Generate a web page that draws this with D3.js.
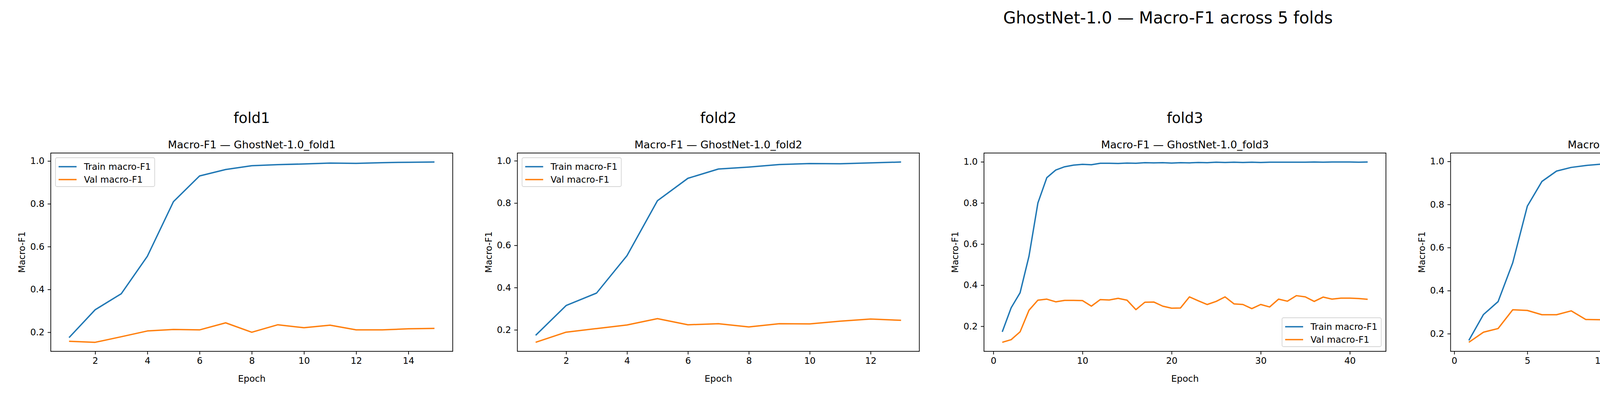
<!DOCTYPE html>
<html>
<head>
<meta charset="utf-8">
<script src="https://cdn.jsdelivr.net/npm/d3@7"></script>
<style>
  body { margin: 0; background: #fff; }
  svg text { font-family: "DejaVu Sans", sans-serif; fill: #000; }
</style>
</head>
<body>
<svg id="chart" width="5980" height="1017"></svg>
<script>
// values
const foldNames = ["fold1", "fold2", "fold3", "fold4", "fold5"]

const train1 = [0.175, 0.305, 0.38, 0.555, 0.81, 0.93, 0.96, 0.978, 0.983, 0.986, 0.99, 0.989, 0.992, 0.994, 0.995]
const val1 = [0.158, 0.153, 0.179, 0.206, 0.213, 0.211, 0.244, 0.2, 0.235, 0.221, 0.233, 0.211, 0.211, 0.216, 0.218]

const train2 = [0.174, 0.315, 0.374, 0.551, 0.811, 0.917, 0.961, 0.970, 0.982, 0.987, 0.986, 0.990, 0.994]
const val2 = [0.141, 0.189, 0.206, 0.223, 0.253, 0.224, 0.229, 0.214, 0.229, 0.228, 0.241, 0.251, 0.245]

const train3 = [0.173, 0.29, 0.363, 0.541, 0.8, 0.923, 0.96, 0.976, 0.984, 0.988, 0.986, 0.993, 0.993, 0.992, 0.994,
  0.993, 0.996, 0.995, 0.996, 0.994, 0.996, 0.995, 0.997, 0.996, 0.998, 0.997, 0.998, 0.997, 0.998, 0.997, 0.998,
  0.998, 0.998, 0.998, 0.998, 0.999, 0.998, 0.999, 0.999, 0.999, 0.998, 0.999]
const val3 = [0.122, 0.135, 0.173, 0.278, 0.327, 0.332, 0.319, 0.326, 0.326, 0.325, 0.298, 0.330, 0.328, 0.336, 0.327,
  0.281, 0.317, 0.318, 0.298, 0.288, 0.289, 0.343, 0.324, 0.306, 0.321, 0.343, 0.309, 0.306, 0.286, 0.306, 0.294,
  0.332, 0.322, 0.349, 0.343, 0.321, 0.342, 0.332, 0.337, 0.337, 0.335, 0.331]

const train4 = [0.169, 0.289, 0.349, 0.529, 0.792, 0.907, 0.955, 0.972, 0.981, 0.987, 0.990, 0.991, 0.994, 0.994, 0.992,
  0.994, 0.994, 0.995, 0.995, 0.997, 0.995, 0.995, 0.997, 0.997, 0.997, 0.997]
const val4 = [0.160, 0.207, 0.224, 0.311, 0.308, 0.288, 0.288, 0.306, 0.266, 0.265, 0.281, 0.323, 0.317, 0.25, 0.295,
  0.274, 0.290, 0.337, 0.264, 0.302, 0.292, 0.274, 0.297, 0.266, 0.276, 0.292]

const train5 = [0.173, 0.308, 0.374, 0.542, 0.797, 0.917, 0.956, 0.973, 0.978, 0.984, 0.986, 0.989, 0.992, 0.993, 0.992, 0.992]
const val5 = [0.147, 0.175, 0.172, 0.26, 0.30, 0.315, 0.289, 0.332, 0.313, 0.317, 0.268, 0.330, 0.282, 0.261, 0.276, 0.291]

const trainSeries = [train1, train2, train3, train4, train5]
const valSeries = [val1, val2, val3, val4, val5]
const xTickValues = [
  [2, 4, 6, 8, 10, 12, 14],
  [2, 4, 6, 8, 10, 12],
  [0, 10, 20, 30, 40],
  [0, 5, 10, 15, 20, 25],
  [2, 4, 6, 8, 10, 12, 14, 16]
]
const yTickValues = [0.2, 0.4, 0.6, 0.8, 1.0]
const legendPos = ["upper left", "upper left", "lower right", "center right", "upper left"]
const seriesNames = ["Train macro-F1", "Val macro-F1"]
const colors = ["#1f77b4", "#ff7f0e"]

const svg = d3.select("#chart")
const panelW = 1029, panelH = 508, panelTop = 392, step = 1194.5, firstLeft = 130

svg.append("text")
  .attr("x", 2990).attr("y", 60)
  .attr("text-anchor", "middle")
  .style("font-size", "42px")
  .text("GhostNet-1.0 \u2014 Macro-F1 across 5 folds")

foldNames.forEach(function(name, i) {
  const left = firstLeft + i * step
  const train = trainSeries[i], val = valSeries[i]
  const n = train.length
  const all = train.concat(val)
  const ymin = d3.min(all), ymax = d3.max(all)
  const ypad = (ymax - ymin) * 0.05
  const xpad = (n - 1) * 0.05

  const x = d3.scaleLinear().domain([1 - xpad, n + xpad]).range([0, panelW])
  const y = d3.scaleLinear().domain([ymin - ypad, ymax + ypad]).range([panelH, 0])

  svg.append("text")
    .attr("x", left + panelW / 2).attr("y", 315)
    .attr("text-anchor", "middle")
    .style("font-size", "37px")
    .text(name)

  const g = svg.append("g").attr("transform", "translate(" + left + "," + panelTop + ")")

  g.append("text")
    .attr("x", panelW / 2).attr("y", -12)
    .attr("text-anchor", "middle")
    .style("font-size", "27px")
    .text("Macro-F1 \u2014 GhostNet-1.0_" + name)

  const xAxis = g.append("g").attr("transform", "translate(0," + panelH + ")")
    .call(d3.axisBottom(x).tickValues(xTickValues[i]).tickFormat(d3.format("d")).tickSize(8).tickPadding(8))
  const yAxis = g.append("g")
    .call(d3.axisLeft(y).tickValues(yTickValues).tickFormat(d3.format(".1f")).tickSize(8).tickPadding(8))
  ;[xAxis, yAxis].forEach(function(a) {
    a.select(".domain").remove()
    a.selectAll("line").attr("stroke", "#000").attr("stroke-width", 1.8)
    a.selectAll("text").style("font-size", "23px").style("font-family", "DejaVu Sans")
  })

  g.append("text")
    .attr("x", panelW / 2).attr("y", panelH + 78)
    .attr("text-anchor", "middle")
    .style("font-size", "23px")
    .text("Epoch")
  g.append("text")
    .attr("transform", "translate(" + (-66) + "," + (panelH / 2) + ") rotate(-90)")
    .attr("text-anchor", "middle")
    .style("font-size", "23px")
    .text("Macro-F1")

  const line = d3.line().x(function(d, j) { return x(j + 1) }).y(function(d) { return y(d) })
  ;[train, val].forEach(function(s, k) {
    g.append("path")
      .datum(s)
      .attr("fill", "none")
      .attr("stroke", colors[k])
      .attr("stroke-width", 3.5)
      .attr("stroke-linejoin", "round")
      .attr("d", line)
  })

  g.append("rect")
    .attr("width", panelW).attr("height", panelH)
    .attr("fill", "none").attr("stroke", "#000").attr("stroke-width", 1.8)

  // legend
  const lw = 254, lh = 74
  let lx = 12, ly = 12
  if (legendPos[i] == "lower right") { lx = panelW - lw - 12; ly = panelH - lh - 12 }
  if (legendPos[i] == "center right") { lx = panelW - lw - 12; ly = (panelH - lh) / 2 }
  const lg = g.append("g").attr("transform", "translate(" + lx + "," + ly + ")")
  lg.append("rect")
    .attr("width", lw).attr("height", lh).attr("rx", 4)
    .attr("fill", "rgba(255,255,255,0.8)").attr("stroke", "#d5d5d5").attr("stroke-width", 1.8)
  seriesNames.forEach(function(s, k) {
    const yy = 23 + k * 33
    lg.append("line")
      .attr("x1", 8).attr("x2", 54).attr("y1", yy).attr("y2", yy)
      .attr("stroke", colors[k]).attr("stroke-width", 3.5)
    lg.append("text")
      .attr("x", 73).attr("y", yy + 8)
      .style("font-size", "23px")
      .text(s)
  })
})
</script>
</body>
</html>
